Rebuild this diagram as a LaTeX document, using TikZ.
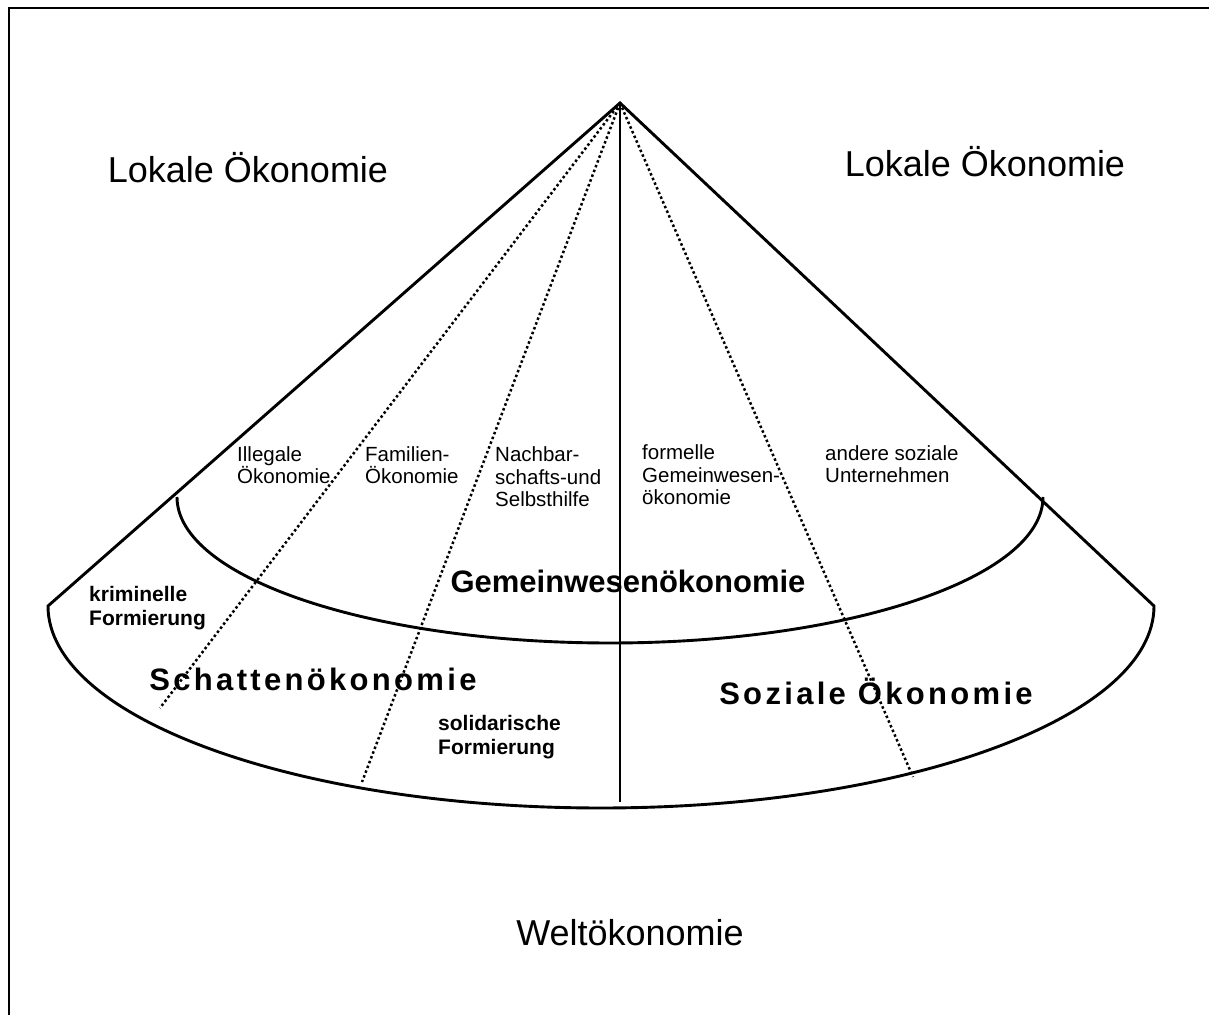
\documentclass[tikz,border=0pt]{standalone}
\usepackage{fontspec}
\setmainfont{Liberation Sans}
\newfontfamily\spaced[LetterSpace=10.7]{Liberation Sans}

\begin{document}
\begin{tikzpicture}[x=1pt,y=1pt,
every node/.style={inner sep=0pt},
cone/.style={line width=2.9pt,line join=miter},
split/.style={line width=2.5pt,dash pattern=on 2.5pt off 2.6pt},
big/.style={font=\fontsize{36}{40}\selectfont,anchor=base},
small/.style={font=\fontsize{20.5}{22.5}\selectfont,align=left,anchor=base west},
bsmall/.style={font=\fontsize{21}{24}\selectfont\bfseries,align=left,anchor=base west},
title/.style={font=\fontsize{31}{34}\selectfont\bfseries,anchor=base}]

\clip (0,0) rectangle (1209,1014);
\draw[line width=2.9pt] (9,-5) -- (9,1006) -- (1215,1006);

% cone
\coordinate (apex) at (620,911);
\coordinate (left) at (48,408);
\coordinate (right) at (1154,408);
\draw[cone] (apex) -- (left) arc[start angle=180,end angle=360,x radius=553,y radius=202] -- cycle;
\draw[cone] (177,517) arc[start angle=180,end angle=360,x radius=433,y radius=146];

% dividers
\coordinate (d1) at (160,306);
\coordinate (d2) at (362,232);
\coordinate (mid) at (620,212);
\coordinate (d3) at (913,237);
\draw[split] (apex) -- (d1);
\draw[split] (apex) -- (d2);
\draw[split] (apex) -- (d3);
\draw[cone] (apex) -- (mid);

% labels (base west = last line)
\node[big] (lokal1) at (248,831) {Lokale Ökonomie};
\node[big] (lokal2) at (985,837) {Lokale Ökonomie};
\node[big] (welt) at (630,69) {Weltökonomie};

\node[small] (illegal) at (237,530) {Illegale\\Ökonomie};
\node[small] (familie) at (365,530) {Familien-\\Ökonomie};
\node[small] (nachbar) at (495,507) {Nachbar-\\schafts-und\\Selbsthilfe};
\node[small] (formell) at (642,509) {formelle\\Gemeinwesen-\\ökonomie};
\node[small] (andere) at (825,531) {andere soziale\\Unternehmen};

\node[bsmall] (krim) at (89,388) {kriminelle\\Formierung};
\node[bsmall] (solid) at (438,259) {solidarische\\Formierung};

\node[title] (gwo) at (628,421) {Gemeinwesenökonomie};
\node[title] (schatten) at (313,323) {\spaced\bfseries Schattenökonomie};
\node[title] (sozial) at (876,309) {\spaced\bfseries Soziale Ökonomie};
\end{tikzpicture}
\end{document}
